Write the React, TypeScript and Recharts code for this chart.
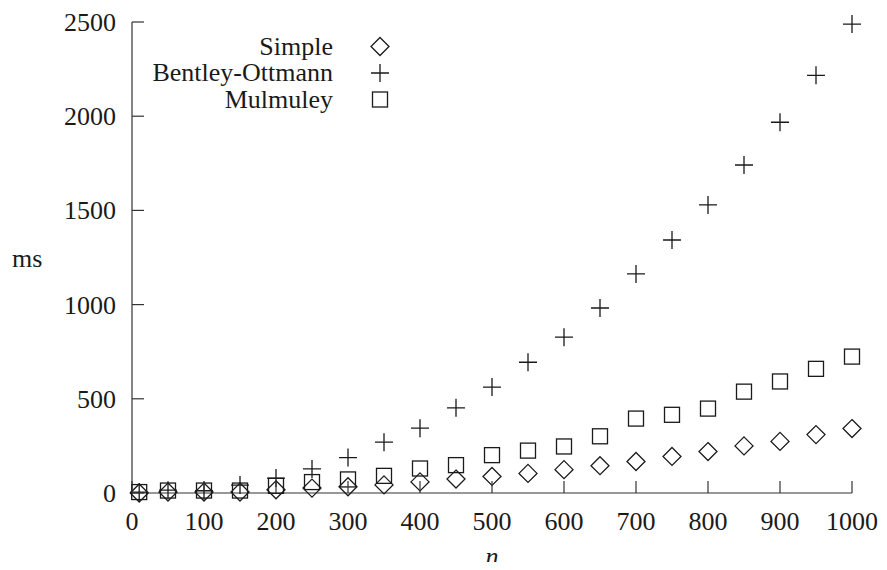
import { ScatterChart, Scatter, XAxis, YAxis, Legend } from 'recharts';

const nValues = [10, 50, 100, 150, 200, 250, 300, 350, 400, 450, 500, 550, 600, 650, 700, 750, 800, 850, 900, 950, 1000];
const simpleMs = [0, 5, 5, 5, 17, 26, 33, 43, 59, 74, 88, 104, 124, 145, 167, 194, 220, 250, 274, 310, 342];
const bentleyMs = [5, 15, 12, 42, 79, 128, 188, 270, 344, 452, 562, 694, 827, 982, 1163, 1343, 1529, 1741, 1968, 2217, 2489];
const mulmuleyMs = [5, 13, 13, 13, 38, 58, 72, 91, 130, 148, 201, 225, 247, 301, 395, 415, 448, 538, 592, 659, 724];

const seriesNames = ['Simple', 'Bentley-Ottmann', 'Mulmuley'];
const xTicks = [0, 100, 200, 300, 400, 500, 600, 700, 800, 900, 1000];
const yTicks = [0, 500, 1000, 1500, 2000, 2500];

const simpleData = nValues.map((n, i) => ({ n, ms: simpleMs[i] }));
const bentleyData = nValues.map((n, i) => ({ n, ms: bentleyMs[i] }));
const mulmuleyData = nValues.map((n, i) => ({ n, ms: mulmuleyMs[i] }));

const FONT = 'Liberation Serif, Tinos, DejaVu Serif, Noto Serif, serif';
const INK = '#1a1a1a';
const FRAME = '#333';
const TICK = 12;
const textStyle = { fontFamily: FONT };

function diamond(cx: number, cy: number) {
  const r = 9;
  return <path d={`M${cx},${cy - r}L${cx + r},${cy}L${cx},${cy + r}L${cx - r},${cy}Z`} fill="none" stroke={INK} strokeWidth={1.3} />;
}

function plus(cx: number, cy: number) {
  const r = 9;
  return <path d={`M${cx - r},${cy}H${cx + r}M${cx},${cy - r}V${cy + r}`} fill="none" stroke={INK} strokeWidth={1.3} />;
}

function square(cx: number, cy: number) {
  const r = 7.5;
  return <rect x={cx - r} y={cy - r} width={2 * r} height={2 * r} fill="none" stroke={INK} strokeWidth={1.3} />;
}

const symbols: Record<string, (cx: number, cy: number) => JSX.Element> = {
  Simple: diamond,
  'Bentley-Ottmann': plus,
  Mulmuley: square,
};

const BottomTick = (p: any) => (
  <g>
    <line x1={p.x} y1={p.y} x2={p.x} y2={p.y - TICK} stroke={FRAME} strokeWidth={1.2} />
    <text x={p.x} y={p.y + 37} textAnchor="middle" style={textStyle} fontSize={26} fill={INK}>{p.payload.value}</text>
  </g>
);

const TopTick = (p: any) => (
  <line x1={p.x} y1={p.y} x2={p.x} y2={p.y + TICK} stroke={FRAME} strokeWidth={1.2} />
);

const LeftTick = (p: any) => (
  <g>
    <line x1={p.x} y1={p.y} x2={p.x + TICK} y2={p.y} stroke={FRAME} strokeWidth={1.2} />
    <text x={p.x - 16} y={p.y + 9} textAnchor="end" style={textStyle} fontSize={26} fill={INK}>{p.payload.value}</text>
  </g>
);

const RightTick = (p: any) => (
  <line x1={p.x} y1={p.y} x2={p.x - TICK} y2={p.y} stroke={FRAME} strokeWidth={1.2} />
);

const renderLegend = (props: any) => {
  const items = seriesNames.filter((name) => props.payload.some((it: any) => it.value === name));
  return (
    <svg width={300} height={90}>
      {items.map((name, i) => {
        const cy = 16.5 + i * 26.5;
        return (
          <g key={name}>
            <text x={230} y={cy + 8} textAnchor="end" style={textStyle} fontSize={26} fill={INK}>{name}</text>
            {symbols[name](277, cy)}
          </g>
        );
      })}
    </svg>
  );
};

export default function App() {
  return (
    <div style={{ margin: -8, background: '#fff', fontFamily: FONT }}>
      <ScatterChart width={887} height={570} margin={{ top: 22, right: 35, left: 0, bottom: 0 }}>
        <XAxis
          type="number"
          dataKey="n"
          domain={[0, 1000]}
          ticks={xTicks}
          interval={0}
          height={77}
          tickSize={0}
          tickMargin={0}
          tickLine={false}
          tick={BottomTick}
          axisLine={{ stroke: FRAME, strokeWidth: 1.2 }}
          label={{ value: 'n', position: 'insideBottom', offset: 5, style: textStyle, fontSize: 26, fontStyle: 'italic', fill: INK }}
        />
        <XAxis
          xAxisId="top"
          orientation="top"
          type="number"
          domain={[0, 1000]}
          ticks={xTicks}
          interval={0}
          height={0}
          tickSize={0}
          tickMargin={0}
          tickLine={false}
          tick={TopTick}
          axisLine={{ stroke: FRAME, strokeWidth: 1.2 }}
        />
        <YAxis
          type="number"
          dataKey="ms"
          domain={[0, 2500]}
          ticks={yTicks}
          interval={0}
          width={132}
          tickSize={0}
          tickMargin={0}
          tickLine={false}
          tick={LeftTick}
          axisLine={{ stroke: FRAME, strokeWidth: 1.2 }}
          label={{ value: 'ms', position: 'insideLeft', offset: 12, style: textStyle, fontSize: 26, fill: INK }}
        />
        <YAxis
          yAxisId="right"
          orientation="right"
          type="number"
          domain={[0, 2500]}
          ticks={yTicks}
          interval={0}
          width={0}
          tickSize={0}
          tickMargin={0}
          tickLine={false}
          tick={RightTick}
          axisLine={{ stroke: FRAME, strokeWidth: 1.2 }}
        />
        <Legend
          layout="vertical"
          align="center"
          verticalAlign="middle"
          content={renderLegend}
          wrapperStyle={{ left: 103, top: 30, width: 300, height: 90 }}
        />
        <Scatter name="Simple" data={simpleData} isAnimationActive={false} shape={(p: any) => diamond(p.cx, p.cy)} />
        <Scatter name="Bentley-Ottmann" data={bentleyData} isAnimationActive={false} shape={(p: any) => plus(p.cx, p.cy)} />
        <Scatter name="Mulmuley" data={mulmuleyData} isAnimationActive={false} shape={(p: any) => square(p.cx, p.cy)} />
      </ScatterChart>
    </div>
  );
}
